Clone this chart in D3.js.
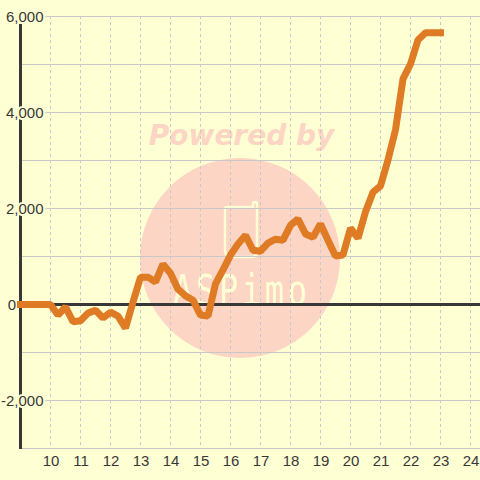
<!DOCTYPE html>
<html>
<head>
<meta charset="utf-8">
<script src="https://cdn.jsdelivr.net/npm/d3@7"></script>
<style>
html, body { margin: 0; padding: 0; background: #ffffd4; }
svg { display: block; }
</style>
</head>
<body>
<div id="chart"></div>
<script>
const hours = [
    9, 9.25, 9.5, 9.75, 10, 10.25, 10.5, 10.75, 11, 11.25, 11.5, 11.75,
    12, 12.25, 12.5, 12.75, 13, 13.25, 13.5, 13.75, 14, 14.25, 14.5, 14.75,
    15, 15.25, 15.5, 15.75, 16, 16.25, 16.5, 16.75, 17, 17.25, 17.5, 17.75,
    18, 18.25, 18.5, 18.75, 19, 19.25, 19.5, 19.75, 20, 20.25, 20.5, 20.75,
    21, 21.25, 21.5, 21.75, 22, 22.25, 22.5, 22.75, 23,
];
const values = [
    0, 0, 0, 0, 0, -220, -50, -360, -340, -180, -120, -280,
    -160, -240, -490, 50, 570, 570, 470, 840, 650, 320, 180, 90,
    -220, -240, 430, 720, 1030, 1260, 1440, 1130, 1110, 1280, 1360, 1340,
    1650, 1780, 1470, 1400, 1680, 1340, 1010, 1030, 1590, 1380, 1930, 2340,
    2470, 3010, 3640, 4700, 5010, 5510, 5660, 5660, 5660,
];
const xTicks = [10, 11, 12, 13, 14, 15, 16, 17, 18, 19, 20, 21, 22, 23, 24];
const yGrid = [-3000, -2000, -1000, 0, 1000, 2000, 3000, 4000, 5000, 6000];
const yLabels = ["-2,000", "0", "2,000", "4,000", "6,000"];
const yLabelValues = [-2000, 0, 2000, 4000, 6000];

const BG = "#ffffd4";
const INK = "#383838";
const GRID = "#c8c8c8";
const PINK = "#fcd5c5";

const svg = d3.select("#chart").append("svg").attr("width", 480).attr("height", 480);

const x = d3.scaleLinear().domain([9, 25]).range([20.5, 500.5]);
const y = d3.scaleLinear().domain([-3000, 6000]).range([448.5, 16.5]);

svg.append("rect").attr("width", 480).attr("height", 480).attr("fill", BG);

// watermark
const mark = svg.append("g");
mark.append("circle").attr("cx", 240).attr("cy", 258).attr("r", 100).attr("fill", PINK);
mark.append("text")
    .attr("x", 241.5).attr("y", 145)
    .attr("text-anchor", "middle")
    .attr("font-family", "'DejaVu Sans'")
    .attr("font-weight", "bold")
    .attr("font-style", "italic")
    .attr("font-size", 28)
    .attr("fill", PINK)
    .text("Powered by");
mark.append("path")
    .attr("d", "M 227 207 H 253 V 204 a 2 2 0 0 1 4 0 V 252 q 0 5 -5 5 H 232 q -7 0 -7 -7 V 209 q 0 -2 2 -2 Z")
    .attr("fill", "none")
    .attr("stroke", BG)
    .attr("stroke-width", 2.5);
mark.append("text")
    .attr("transform", "translate(173,305) scale(1,1.35)")
    .attr("font-family", "'DejaVu Sans Mono'")
    .attr("font-size", 32)
    .attr("textLength", 134)
    .attr("fill", BG)
    .text("ASPimo");

// grid
const grid = svg.append("g");
grid.selectAll("line.h").data(yGrid).join("line")
    .attr("class", "h")
    .attr("x1", 20).attr("x2", 480)
    .attr("y1", (d) => y(d)).attr("y2", (d) => y(d))
    .attr("stroke", GRID);
grid.selectAll("line.v").data(xTicks).join("line")
    .attr("class", "v")
    .attr("x1", (d) => x(d)).attr("x2", (d) => x(d))
    .attr("y1", 16).attr("y2", 448)
    .attr("stroke", GRID)
    .attr("stroke-dasharray", "3,3");

// axes lines
svg.append("line")
    .attr("x1", 20).attr("x2", 480)
    .attr("y1", y(0)).attr("y2", y(0))
    .attr("stroke", INK).attr("stroke-width", 3);
svg.append("line")
    .attr("x1", 20.5).attr("x2", 20.5)
    .attr("y1", 24).attr("y2", 449)
    .attr("stroke", INK).attr("stroke-width", 3);

// tick labels, the halo has to stay under the line
const labelFont = "'Liberation Sans'";
svg.append("g").selectAll("text").data(xTicks).join("text")
    .attr("x", (d) => x(d) + 0.5)
    .attr("y", 466)
    .attr("text-anchor", "middle")
    .attr("font-family", labelFont)
    .attr("font-size", 15)
    .attr("fill", INK)
    .text((d) => d);
svg.append("g").selectAll("text").data(yLabels).join("text")
    .attr("x", (d) => (d === "0" ? 16 : 43.5)) // the zero label sits left of the axis
    .attr("y", (d, i) => y(yLabelValues[i]) + 5)
    .attr("text-anchor", "end")
    .attr("font-family", labelFont)
    .attr("font-size", 15)
    .attr("fill", INK)
    .attr("stroke", BG)
    .attr("stroke-width", 4)
    .attr("paint-order", "stroke")
    .text((d) => d);

// line
const line = d3.line().x((d, i) => x(hours[i])).y((d) => y(d));
svg.append("path")
    .datum(values)
    .attr("d", line)
    .attr("fill", "none")
    .attr("stroke", "#de7b24")
    .attr("stroke-width", 7)
    .attr("stroke-linecap", "square")
    .attr("stroke-linejoin", "bevel");
</script>
</body>
</html>
